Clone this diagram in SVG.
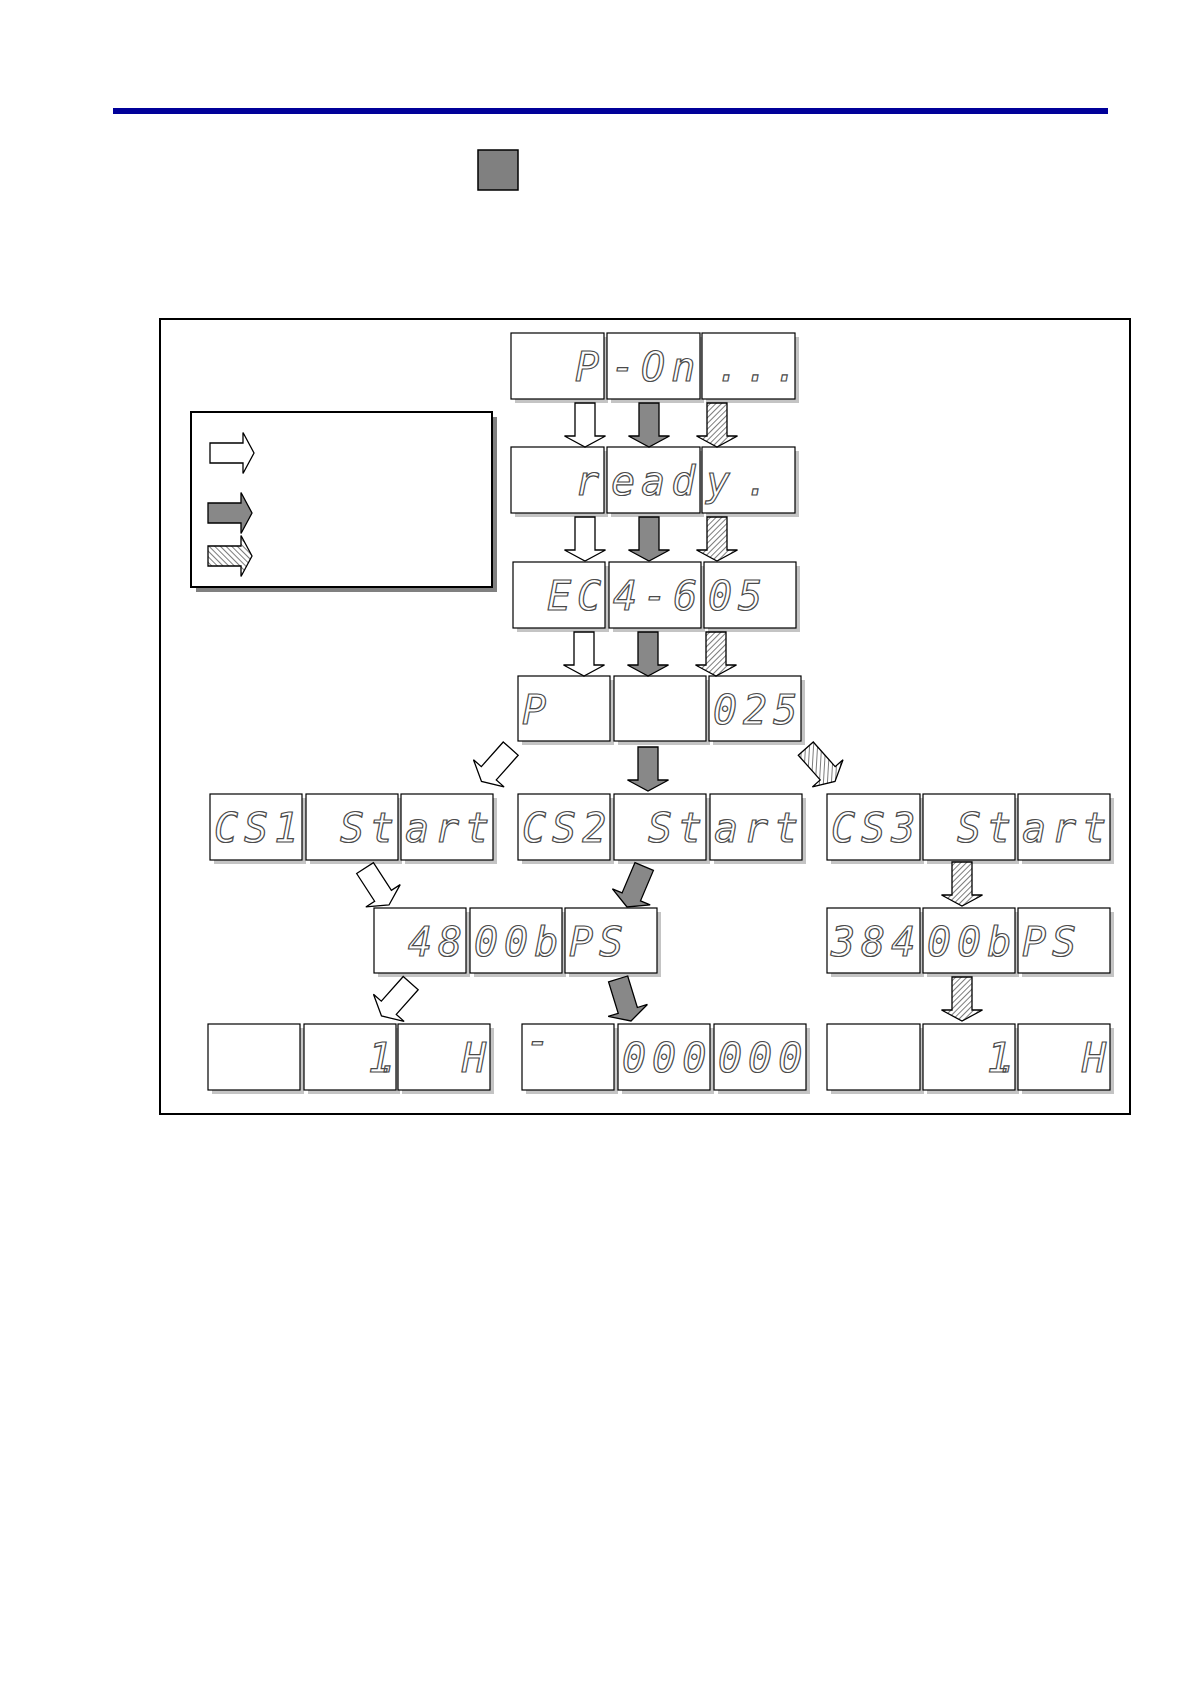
<svg xmlns="http://www.w3.org/2000/svg" width="1190" height="1684" viewBox="0 0 1190 1684">
<style>
.bx{fill:#fff;stroke:#000;stroke-width:1.2}
.sh{fill:#c4c4c4}
.seg{font-family:"DejaVu Sans Mono","Liberation Mono",monospace;font-style:oblique;font-size:40px;letter-spacing:6px;fill:#fff;stroke:#4a4a4a;stroke-width:1.2}
.aw{fill:#fff;stroke:#000;stroke-width:1.3}
.ag{fill:#888;stroke:#000;stroke-width:1.3}
.ah{fill:url(#hatch);stroke:#000;stroke-width:1.3}
</style>
<defs>
<path id="arr" d="M-10,-44H10V-11H20.5L0,0L-20.5,-11H-10Z"/>
<pattern id="hatch" width="4" height="4" patternUnits="userSpaceOnUse" patternTransform="rotate(45)">
<rect width="4" height="4" fill="#fff"/>
<line x1="0" y1="0" x2="0" y2="4" stroke="#444" stroke-width="1.4"/>
</pattern>
</defs>
<rect x="0" y="0" width="1190" height="1684" fill="#fff"/>
<rect x="113" y="108" width="995" height="6" fill="#000099"/>
<rect x="478" y="150" width="40" height="40" fill="#808080" stroke="#000" stroke-width="1.5"/>
<rect x="160" y="319" width="970" height="795" fill="none" stroke="#000" stroke-width="2"/>

<g id="legend">
<rect x="196" y="417" width="301" height="175" fill="#808080"/>
<rect x="191" y="412" width="301" height="175" fill="#fff" stroke="#000" stroke-width="2"/>
<use href="#arr" class="aw" transform="translate(254,453) rotate(-90)"/>
<use href="#arr" class="ag" transform="translate(252,513) rotate(-90)"/>
<use href="#arr" class="ah" transform="translate(252,556) rotate(-90)"/>
</g>

<g id="r1b1"><rect class="sh" x="515" y="337" width="93" height="66"/><rect class="bx" x="511" y="333" width="93" height="66"/><text class="seg" x="575" y="381">P</text></g>
<g id="r1b2"><rect class="sh" x="611" y="337" width="93" height="66"/><rect class="bx" x="607" y="333" width="93" height="66"/><text class="seg" x="611" y="381">-On</text></g>
<g id="r1b3"><rect class="sh" x="706" y="337" width="93" height="66"/><rect class="bx" x="702" y="333" width="93" height="66"/><text class="seg" x="716" y="381" style="letter-spacing:5px">...</text></g>

<g id="r2b1"><rect class="sh" x="515" y="451" width="93" height="66"/><rect class="bx" x="511" y="447" width="93" height="66"/><text class="seg" x="575" y="495">r</text></g>
<g id="r2b2"><rect class="sh" x="611" y="451" width="93" height="66"/><rect class="bx" x="607" y="447" width="93" height="66"/><text class="seg" x="611" y="495">ead</text></g>
<g id="r2b3"><rect class="sh" x="706" y="451" width="93" height="66"/><rect class="bx" x="702" y="447" width="93" height="66"/><text class="seg" x="706" y="495" style="letter-spacing:15px">y.</text></g>

<g id="r3b1"><rect class="sh" x="517" y="566" width="92" height="66"/><rect class="bx" x="513" y="562" width="92" height="66"/><text class="seg" x="547" y="610">EC</text></g>
<g id="r3b2"><rect class="sh" x="613" y="566" width="92" height="66"/><rect class="bx" x="609" y="562" width="92" height="66"/><text class="seg" x="613" y="610">4-6</text></g>
<g id="r3b3"><rect class="sh" x="708" y="566" width="92" height="66"/><rect class="bx" x="704" y="562" width="92" height="66"/><text class="seg" x="708" y="610">05</text></g>

<g id="r4b1"><rect class="sh" x="522" y="680" width="92" height="65"/><rect class="bx" x="518" y="676" width="92" height="65"/><text class="seg" x="522" y="724">P</text></g>
<g id="r4b2"><rect class="sh" x="618" y="680" width="92" height="65"/><rect class="bx" x="614" y="676" width="92" height="65"/></g>
<g id="r4b3"><rect class="sh" x="713" y="680" width="92" height="65"/><rect class="bx" x="709" y="676" width="92" height="65"/><text class="seg" x="713" y="724">025</text></g>

<g id="cs1a"><rect class="sh" x="214" y="798" width="92" height="66"/><rect class="bx" x="210" y="794" width="92" height="66"/><text class="seg" x="214" y="842">CS1</text></g>
<g id="cs1b"><rect class="sh" x="310" y="798" width="92" height="66"/><rect class="bx" x="306" y="794" width="92" height="66"/><text class="seg" x="340" y="842">St</text></g>
<g id="cs1c"><rect class="sh" x="405" y="798" width="92" height="66"/><rect class="bx" x="401" y="794" width="92" height="66"/><text class="seg" x="405" y="842">art</text></g>

<g id="cs2a"><rect class="sh" x="522" y="798" width="92" height="66"/><rect class="bx" x="518" y="794" width="92" height="66"/><text class="seg" x="522" y="842">CS2</text></g>
<g id="cs2b"><rect class="sh" x="618" y="798" width="92" height="66"/><rect class="bx" x="614" y="794" width="92" height="66"/><text class="seg" x="648" y="842">St</text></g>
<g id="cs2c"><rect class="sh" x="714" y="798" width="92" height="66"/><rect class="bx" x="710" y="794" width="92" height="66"/><text class="seg" x="714" y="842">art</text></g>

<g id="cs3a"><rect class="sh" x="831" y="798" width="93" height="66"/><rect class="bx" x="827" y="794" width="93" height="66"/><text class="seg" x="831" y="842">CS3</text></g>
<g id="cs3b"><rect class="sh" x="927" y="798" width="92" height="66"/><rect class="bx" x="923" y="794" width="92" height="66"/><text class="seg" x="957" y="842">St</text></g>
<g id="cs3c"><rect class="sh" x="1022" y="798" width="92" height="66"/><rect class="bx" x="1018" y="794" width="92" height="66"/><text class="seg" x="1022" y="842">art</text></g>

<g id="b48a"><rect class="sh" x="378" y="912" width="92" height="65"/><rect class="bx" x="374" y="908" width="92" height="65"/><text class="seg" x="408" y="956">48</text></g>
<g id="b48b"><rect class="sh" x="474" y="912" width="92" height="65"/><rect class="bx" x="470" y="908" width="92" height="65"/><text class="seg" x="474" y="956">00b</text></g>
<g id="b48c"><rect class="sh" x="569" y="912" width="92" height="65"/><rect class="bx" x="565" y="908" width="92" height="65"/><text class="seg" x="569" y="956">PS</text></g>

<g id="b384a"><rect class="sh" x="831" y="912" width="93" height="65"/><rect class="bx" x="827" y="908" width="93" height="65"/><text class="seg" x="831" y="956">384</text></g>
<g id="b384b"><rect class="sh" x="927" y="912" width="92" height="65"/><rect class="bx" x="923" y="908" width="92" height="65"/><text class="seg" x="927" y="956">00b</text></g>
<g id="b384c"><rect class="sh" x="1022" y="912" width="92" height="65"/><rect class="bx" x="1018" y="908" width="92" height="65"/><text class="seg" x="1022" y="956">PS</text></g>

<g id="r7a1"><rect class="sh" x="212" y="1028" width="92" height="66"/><rect class="bx" x="208" y="1024" width="92" height="66"/></g>
<g id="r7a2"><rect class="sh" x="308" y="1028" width="92" height="66"/><rect class="bx" x="304" y="1024" width="92" height="66"/><text class="seg" x="368" y="1072" style="letter-spacing:-15px">1.</text></g>
<g id="r7a3"><rect class="sh" x="402" y="1028" width="92" height="66"/><rect class="bx" x="398" y="1024" width="92" height="66"/><text class="seg" x="462" y="1072">H</text></g>

<g id="r7b1"><rect class="sh" x="526" y="1028" width="92" height="66"/><rect class="bx" x="522" y="1024" width="92" height="66"/><text class="seg" x="526" y="1055">-</text></g>
<g id="r7b2"><rect class="sh" x="622" y="1028" width="92" height="66"/><rect class="bx" x="618" y="1024" width="92" height="66"/><text class="seg" x="622" y="1072">000</text></g>
<g id="r7b3"><rect class="sh" x="718" y="1028" width="92" height="66"/><rect class="bx" x="714" y="1024" width="92" height="66"/><text class="seg" x="718" y="1072">000</text></g>

<g id="r7c1"><rect class="sh" x="831" y="1028" width="93" height="66"/><rect class="bx" x="827" y="1024" width="93" height="66"/></g>
<g id="r7c2"><rect class="sh" x="927" y="1028" width="92" height="66"/><rect class="bx" x="923" y="1024" width="92" height="66"/><text class="seg" x="987" y="1072" style="letter-spacing:-15px">1.</text></g>
<g id="r7c3"><rect class="sh" x="1022" y="1028" width="92" height="66"/><rect class="bx" x="1018" y="1024" width="92" height="66"/><text class="seg" x="1082" y="1072">H</text></g>

<g id="connectors">
<use href="#arr" class="aw" transform="translate(585,447)"/>
<use href="#arr" class="ag" transform="translate(649,447)"/>
<use href="#arr" class="ah" transform="translate(717,447)"/>
<use href="#arr" class="aw" transform="translate(585,561)"/>
<use href="#arr" class="ag" transform="translate(649,561)"/>
<use href="#arr" class="ah" transform="translate(717,561)"/>
<use href="#arr" class="aw" transform="translate(584,676)"/>
<use href="#arr" class="ag" transform="translate(648,676)"/>
<use href="#arr" class="ah" transform="translate(716,676)"/>
<use href="#arr" class="aw" transform="translate(481.5,781.5) rotate(41.6)"/>
<use href="#arr" class="ag" transform="translate(648,791)"/>
<use href="#arr" class="ah" transform="translate(835,781.5) rotate(-41.6)"/>
<use href="#arr" class="aw" transform="translate(389,905) rotate(-33)"/>
<use href="#arr" class="ag" transform="translate(627,907) rotate(23)"/>
<use href="#arr" class="ah" transform="translate(962,906)"/>
<use href="#arr" class="aw" transform="translate(381.5,1016) rotate(41.6)"/>
<use href="#arr" class="ag" transform="translate(631,1021) rotate(-17)"/>
<use href="#arr" class="ah" transform="translate(962,1021)"/>
</g>
</svg>
